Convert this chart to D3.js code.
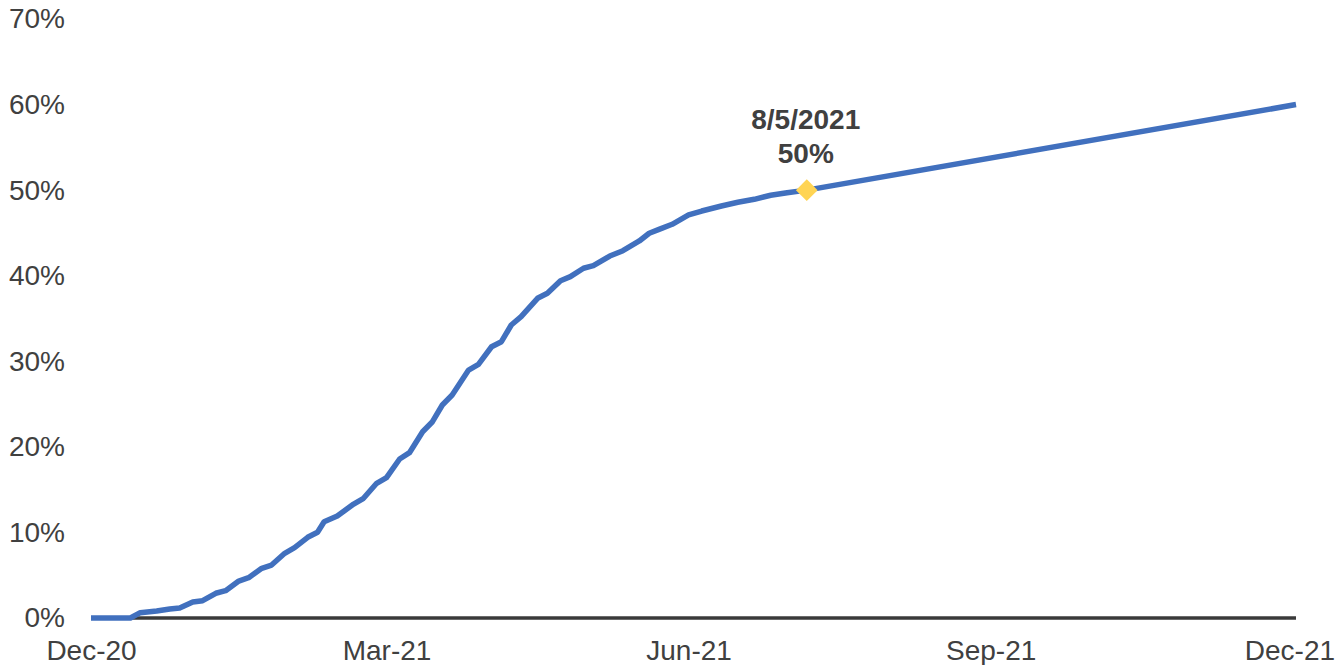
<!DOCTYPE html>
<html>
<head>
<meta charset="utf-8">
<script src="https://cdn.jsdelivr.net/npm/d3@7"></script>
<style>
  html, body { margin: 0; padding: 0; background: #fff; }
  svg { display: block; font-family: "Liberation Sans", Arial, sans-serif; }
</style>
</head>
<body>
<svg id="chart" width="1341" height="665"></svg>
<script>
// ---- data ----
const dates = [
  "2020-12-01","2020-12-13","2020-12-16","2020-12-21","2020-12-25","2020-12-28",
  "2021-01-01","2021-01-04","2021-01-08","2021-01-11","2021-01-15","2021-01-18",
  "2021-01-22","2021-01-25","2021-01-29","2021-02-01","2021-02-05","2021-02-08",
  "2021-02-10","2021-02-14","2021-02-19","2021-02-22","2021-02-26","2021-03-01",
  "2021-03-05","2021-03-08","2021-03-12","2021-03-15","2021-03-18","2021-03-21",
  "2021-03-23","2021-03-26","2021-03-29","2021-04-02","2021-04-05","2021-04-08",
  "2021-04-11","2021-04-16","2021-04-19","2021-04-23","2021-04-26","2021-04-30",
  "2021-05-03","2021-05-08","2021-05-12","2021-05-17","2021-05-20","2021-05-23",
  "2021-05-27","2021-06-01","2021-06-05","2021-06-11","2021-06-16","2021-06-21",
  "2021-06-26","2021-07-01","2021-07-07","2021-12-03"
];
const values = [
  0, 0, 0.62, 0.82, 1.05, 1.17,
  1.87, 2.02, 2.89, 3.19, 4.32, 4.71,
  5.81, 6.19, 7.56, 8.22, 9.43, 10.02,
  11.25, 11.92, 13.32, 13.99, 15.74, 16.40,
  18.58, 19.32, 21.77, 22.94, 24.89, 26.06,
  27.23, 28.98, 29.65, 31.70, 32.29, 34.24,
  35.21, 37.36, 37.95, 39.42, 39.89, 40.87,
  41.17, 42.30, 42.92, 44.06, 44.96, 45.42,
  46.01, 47.10, 47.56, 48.15, 48.58, 48.93,
  49.40, 49.70, 50.0, 60.0
];
const xTickDates = ["2020-12-01","2021-03-01","2021-06-01","2021-09-01","2021-12-01"];
const xTickLabels = ["Dec-20","Mar-21","Jun-21","Sep-21","Dec-21"];
const yTicks = [0, 10, 20, 30, 40, 50, 60, 70];
const markerDate = "2021-07-07";
const markerValue = 50;
const markerLabel = ["8/5/2021", "50%"];
const xDomain = ["2020-12-01", "2021-12-03"];

// ---- chart ----
const parse = d3.utcParse("%Y-%m-%d");
const svg = d3.select("#chart");
const textColor = "#404040";
const fontSize = 28;
const fontFamily = '"Liberation Sans", Arial, sans-serif';

const x = d3.scaleUtc().domain(xDomain.map(parse)).range([91, 1296]);
const y = d3.scaleLinear().domain([0, 70]).range([618, 19]);

const data = dates.map((d, i) => ({ date: parse(d), value: values[i] }));

// y axis labels (no line, no ticks)
const yAxis = d3.axisLeft(y).tickValues(yTicks).tickFormat(d => d + "%").tickSize(0).tickPadding(0);
const gy = svg.append("g").attr("transform", "translate(65,0)").call(yAxis);
gy.select(".domain").remove();
gy.selectAll("text")
  .attr("fill", textColor)
  .style("font-size", fontSize + "px")
  .style("font-family", fontFamily);

// x axis labels
const xAxis = d3.axisBottom(x)
  .tickValues(xTickDates.map(parse))
  .tickFormat((d, i) => xTickLabels[i])
  .tickSize(0).tickPadding(0);
const gx = svg.append("g").attr("transform", "translate(0,618)").call(xAxis);
gx.select(".domain").remove();
gx.selectAll("text")
  .attr("fill", textColor)
  .attr("y", 42)
  .attr("dy", 0)
  .style("font-size", fontSize + "px")
  .style("font-family", fontFamily);

// baseline axis line
svg.append("line")
  .attr("x1", x.range()[0] + 1).attr("x2", x.range()[1])
  .attr("y1", y(0)).attr("y2", y(0))
  .attr("stroke", "#3a3a3a").attr("stroke-width", 3.5);

// data line
const line = d3.line().x(d => x(d.date)).y(d => y(d.value)).curve(d3.curveLinear);
svg.append("path")
  .datum(data)
  .attr("fill", "none")
  .attr("stroke", "#4170BE")
  .attr("stroke-width", 5.5)
  .attr("stroke-linejoin", "round")
  .attr("d", line);

// marker
const mx = x(parse(markerDate)), my = y(markerValue);
svg.append("path")
  .attr("d", d3.symbol().type(d3.symbolDiamond2).size(300)())
  .attr("transform", `translate(${mx},${my})`)
  .attr("fill", "#FFD453");

// annotation
const ann = svg.append("text")
  .attr("text-anchor", "middle")
  .attr("fill", textColor)
  .style("font-size", fontSize + "px")
  .style("font-family", fontFamily)
  .style("font-weight", "bold");
ann.append("tspan").attr("x", mx - 1).attr("y", my - 61).text(markerLabel[0]);
ann.append("tspan").attr("x", mx - 1).attr("y", my - 27).text(markerLabel[1]);
</script>
</body>
</html>
